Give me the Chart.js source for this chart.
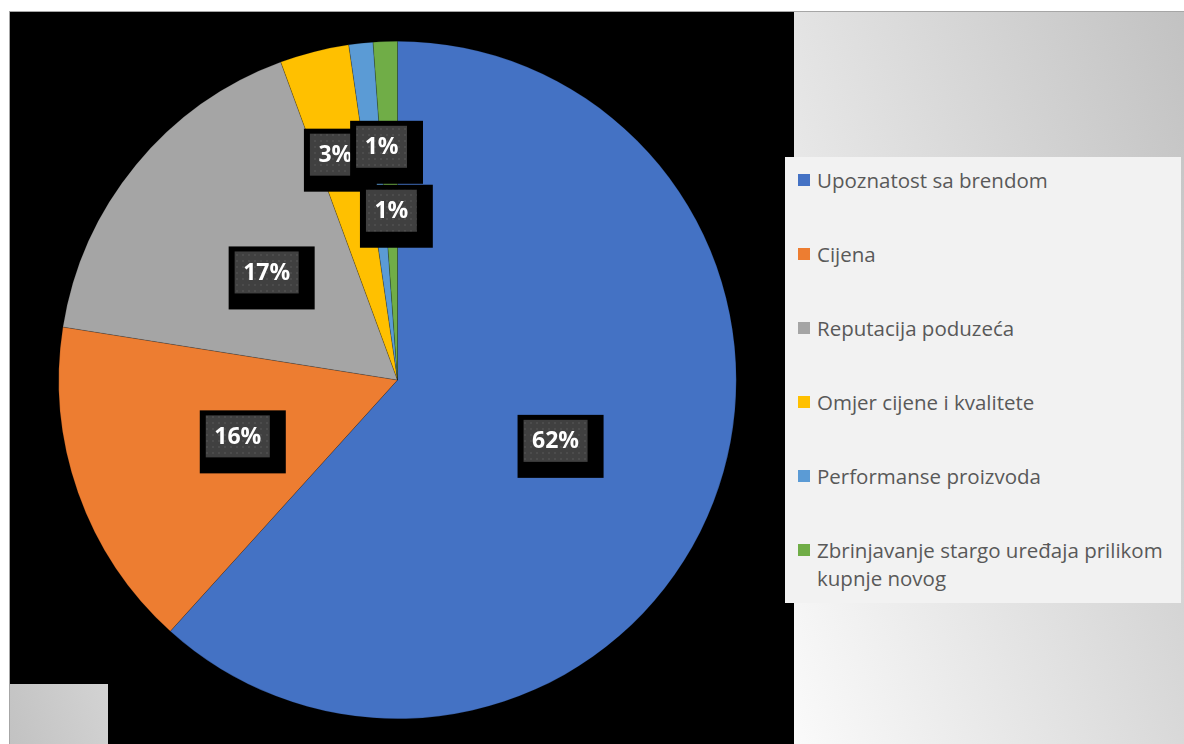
<!DOCTYPE html>
<html>
<head>
<meta charset="utf-8">
<script src="https://cdn.jsdelivr.net/npm/chart.js@4.4.1/dist/chart.umd.min.js"></script>
<style>
  html, body { margin: 0; padding: 0; background: #fff; width: 1184px; height: 744px; overflow: hidden; }
  .abs { position: absolute; }
  #plot { left: 10px; top: 12px; width: 784px; height: 732px; background: #000; }
  #side { left: 794px; top: 12px; width: 390px; height: 732px; background: linear-gradient(70deg, #fafafa 0%, #c2c2c2 100%); }
  #lineTop { left: 9px; top: 11px; width: 1175px; height: 1px; background: #a6a6a6; }
  #lineLeft { left: 9px; top: 11px; width: 1px; height: 733px; background: #a6a6a6; }
  #corner { left: 10px; top: 684px; width: 98px; height: 60px; background: linear-gradient(70deg, #c2c2c2 0%, #d3d3d3 100%); }
  #wrap { left: 0; top: 0; width: 1184px; height: 744px; }
  #legend { left: 785px; top: 157px; width: 396px; height: 446px; background: #f2f2f2; font-family: "Open Sans", sans-serif; font-size: 20.5px; color: #595959; }
  .item { position: absolute; left: 13px; width: 376px; line-height: 28px; }
  .swatch { position: absolute; left: 0; top: 8px; width: 12px; height: 12px; }
  .txt { margin-left: 19px; }
</style>
</head>
<body>
<div id="plot" class="abs"></div>
<div id="side" class="abs"></div>
<div id="lineTop" class="abs"></div>
<div id="lineLeft" class="abs"></div>
<div id="corner" class="abs"></div>
<div id="wrap" class="abs"><canvas id="pie"></canvas></div>
<div id="legend" class="abs"></div>
<script>
const categories = [
  'Upoznatost sa brendom',
  'Cijena',
  'Reputacija poduzeća',
  'Omjer cijene i kvalitete',
  'Performanse proizvoda',
  'Zbrinjavanje stargo uređaja prilikom kupnje novog',
];
const shares = [61.7, 15.8, 16.9, 3.3, 1.15, 1.15];
const colors = ['#4472C4', '#ED7D31', '#A5A5A5', '#FFC000', '#5B9BD5', '#70AD47'];

// label placement: fraction of the radius, and a small turn (degrees) off the slice middle
const LABEL_RADIUS = [0.5, 0.5, 0.5, 0.69, 0.69, 0.5];
const LABEL_TURN = [0, 0, 0, -1.2, 2.3, 0];

function dotPattern(ctx) {
  const c = document.createElement('canvas');
  c.width = 6; c.height = 6;
  const g = c.getContext('2d');
  g.fillStyle = '#404040';
  g.fillRect(0, 0, 6, 6);
  g.fillStyle = '#4c4c4c';
  g.fillRect(2, 2, 2, 2);
  return ctx.createPattern(c, 'repeat');
}

const boxedLabels = {
  id: 'boxedLabels',
  afterDatasetsDraw(chart) {
    const ctx = chart.ctx;
    const meta = chart.getDatasetMeta(0);
    const data = chart.data.datasets[0].data;
    const total = data.reduce((a, b) => a + b, 0);
    const pattern = dotPattern(ctx);
    ctx.save();
    ctx.font = 'bold 23px "Open Sans"';
    ctx.textAlign = 'center';
    ctx.textBaseline = 'middle';
    meta.data.forEach((arc, i) => {
      const p = arc.getProps(['x', 'y', 'startAngle', 'endAngle', 'outerRadius'], true);
      const mid = (p.startAngle + p.endAngle) / 2 + LABEL_TURN[i] * Math.PI / 180;
      const r = p.outerRadius * LABEL_RADIUS[i];
      const cx = p.x + Math.cos(mid) * r;
      const cy = p.y + Math.sin(mid) * r;
      const text = Math.round(data[i] / total * 100) + '%';
      const w = ctx.measureText(text).width + 17;
      const h = 42;
      const x0 = cx - w / 2;
      const y0 = cy - h / 2;
      ctx.fillStyle = '#000';
      ctx.fillRect(x0 - 6, y0 - 5, w + 22, h + 21);
      ctx.fillStyle = pattern;
      ctx.fillRect(x0, y0, w, h);
      ctx.fillStyle = '#fff';
      ctx.fillText(text, cx, cy + 1);
    });
    ctx.restore();
  },
};

const chart = new Chart(document.getElementById('pie'), {
  type: 'pie',
  data: {
    labels: categories,
    datasets: [{
      data: shares,
      backgroundColor: colors,
      borderColor: 'rgba(0,0,0,0.35)',
      borderWidth: 0.5,
    }],
  },
  options: {
    responsive: true,
    maintainAspectRatio: false,
    animation: false,
    events: [],
    layout: { padding: { left: 58, right: 447, top: 41, bottom: 25 } },
    plugins: {
      legend: { display: false },
      tooltip: { enabled: false },
    },
  },
  plugins: [boxedLabels],
});

// legend, built from the chart's own labels and colours
const legend = document.getElementById('legend');
chart.data.labels.forEach((label, i) => {
  const item = document.createElement('div');
  item.className = 'item';
  item.style.top = (23 + i * 74 - 14) + 'px';
  item.innerHTML = `<span class="swatch" style="background:${chart.data.datasets[0].backgroundColor[i]}"></span><div class="txt">${label}</div>`;
  legend.appendChild(item);
});
</script>
</body>
</html>
